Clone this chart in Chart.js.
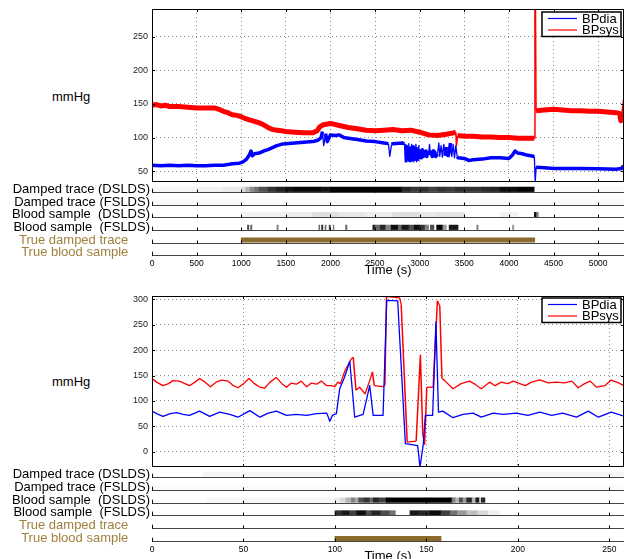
<!DOCTYPE html>
<html>
<head>
<meta charset="utf-8">
<script src="https://cdn.jsdelivr.net/npm/chart.js@4.4.0/dist/chart.umd.min.js"></script>
<style>
  body { margin: 0; background: #fff; width: 625px; height: 559px; overflow: hidden; position: relative;
         font-family: "Liberation Sans", Arial, sans-serif; }
  canvas { position: absolute; left: 0; }
  .unit { position: absolute; left: 52px; font-size: 13px; line-height: 16px; color: #000; }
</style>
</head>
<body>
<div class="unit" style="top:89px">mmHg</div>
<div class="unit" style="top:374px">mmHg</div>
<canvas id="mainTop" width="625" height="182" style="top:0px"></canvas>
<canvas id="stripTop" width="625" height="96" style="top:183px"></canvas>
<canvas id="mainBot" width="625" height="181" style="top:286px"></canvas>
<canvas id="stripBot" width="625" height="97" style="top:468px"></canvas>
<script>
const FONT = '"Liberation Sans", Arial, sans-serif';
Chart.defaults.font.family = FONT;
Chart.defaults.color = '#000';

// axes
const topTimeTicks = [0, 500, 1000, 1500, 2000, 2500, 3000, 3500, 4000, 4500, 5000];
const topMmHgTicks = [50, 100, 150, 200, 250];
const botTimeTicks = [0, 50, 100, 150, 200, 250];
const botMmHgTicks = [0, 50, 100, 150, 200, 250, 300];
const seriesNames = ['BPdia', 'BPsys'];
const stripLabels = ['Damped trace (DSLDS)', 'Damped trace (FSLDS)', 'Blood sample  (DSLDS)',
                     'Blood sample  (FSLDS)', 'True damped trace      ', 'True blood sample      '];

// top panel, [time, mmHg]
const topDia = [[0,59],[100,58],[200,59],[300,58],[400,59],[500,58],[600,58],[700,59],[800,59],[900,61],[980,62],
  [1020,64],[1060,68],[1090,74],[1110,80],[1125,73],[1150,76],[1200,77],[1250,80],[1300,82],[1350,85],[1400,88],
  [1450,90],[1500,91],[1600,92],[1700,93],[1800,94],[1860,96],[1895,100],[1910,109],[1925,88],[1945,106],[1965,94],
  [2000,104],[2050,103],[2100,104],[2150,100],[2200,99],[2300,97],[2400,95],[2500,94],[2600,92],[2650,91],[2665,72],
  [2685,90],[2700,91],[2800,92],[2830,91],[2838,64],[2846,90],[2854,64],[2862,88],[2870,65],[2878,91],[2886,64],
  [2894,86],[2902,64],[2910,90],[2918,65],[2926,88],[2934,64],[2942,87],[2950,66],[2958,90],[2966,64],[2974,85],
  [2982,66],[2990,88],[3000,68],[3010,80],[3020,70],[3030,82],[3040,72],[3050,79],[3060,73],[3070,80],[3080,72],
  [3090,78],[3100,74],[3110,90],[3120,74],[3130,78],[3140,72],[3150,80],[3160,73],[3170,78],[3180,72],[3200,76],
  [3215,92],[3225,72],[3240,88],[3255,71],[3270,90],[3285,73],[3300,86],[3315,71],[3330,78],[3345,92],[3360,72],
  [3375,90],[3390,70],[3405,88],[3420,72],[3430,70],[3500,69],[3550,66],[3600,67],[3700,68],[3800,70],[3900,70],
  [4000,69],[4040,74],[4070,80],[4100,77],[4150,76],[4200,74],[4285,72],[4295,34],[4305,56],[4400,55],[4500,54],
  [4600,54],[4800,54],[5000,53.5],[5200,53],[5260,54],[5285,58]];
const topSys = [[0,148],[50,149],[100,147],[150,148],[200,146],[300,146],[400,145],[500,144],[600,144],[700,144],
  [750,142],[800,139],[850,137],[900,134],[950,133],[1000,131],[1050,128],[1100,126],[1150,124],[1200,122],[1250,119],
  [1300,115],[1350,112],[1400,111],[1450,110],[1500,109],[1600,108],[1700,107],[1800,107],[1850,110],[1880,116],
  [1920,119],[2000,121],[2100,118],[2200,115],[2300,113],[2400,111],[2500,110],[2600,111],[2700,112],[2800,110],
  [2900,111],[3000,108],[3100,104],[3200,103],[3300,105],[3380,107],[3405,108],[3412,88],[3425,103],[3500,102],
  [3600,102],[3700,101],[3800,101],[3900,100],[4000,100],[4100,99],[4200,99],[4285,99],[4292,291],[4298,291],
  [4304,140],[4400,141],[4500,142],[4600,141],[4700,140],[4800,140],[4900,139],[5000,139],[5100,138],[5200,137],
  [5240,136],[5255,125],[5268,138],[5285,156]];

// bottom panel, [time, mmHg]
const botDia = [[0,80],[2.5,75],[6,69.5],[10,75],[13.5,77],[17,73.5],[20.5,71.5],[26,80],[31.5,69.5],[37,78],
  [42.5,73.5],[47,68],[51,76],[53.5,81],[59,68],[63.5,76],[68,80],[73.5,71.5],[79,73.5],[84.5,71.5],[90,75],[95.5,76],
  [97.2,60],[98.6,71.5],[100.8,75],[102.6,124],[105.3,147],[108.1,178],[110.8,68],[115.4,73.5],[119,130],[120.9,71.5],
  [126.3,71.5],[128.3,298],[134.3,297],[138.5,16],[145.2,12],[146.5,-30],[148.3,15],[149.4,71.5],[153.4,71.5],
  [155.2,255],[156.6,78],[159,80],[164.5,67],[170,73.5],[175.5,76],[180,68],[186.5,76],[192,73.5],[199,76],
  [205.5,71.5],[212,78],[218.5,71.5],[224.5,76],[232,68],[238.5,80],[244,68],[251,78],[258,70]];
const botSys = [[0,144],[2.5,137],[6,130],[9,134],[11.5,140],[15,139],[18,134],[20.5,130],[23.5,137],[26,144],
  [29,137],[32,128],[35,137],[38,141],[41.5,139],[44.5,130],[47,126],[50,134],[53,144],[56,134],[59,127],[61.5,125],
  [64.5,137],[68,146],[71,134],[73.5,127],[76,135],[79,133],[81.5,139],[84.5,128],[87,135],[90,133],[92.5,139],
  [95.5,130],[98,130],[100,128],[101.5,137],[103,134],[105.5,160],[109,183],[110,186],[111.5,121],[113.5,127],
  [116.5,114],[119,140],[120.5,157],[121.5,130],[126,128],[127.3,131],[128.2,306],[135.3,303],[136.2,290],
  [139.5,19],[144.4,21],[146.7,190],[148,35],[149,15],[150.2,127],[153.7,127],[156,297],[157.3,287],[158.5,144],
  [160,140],[164.5,124],[169,134],[173.5,139],[176.5,133],[180,124],[184.5,137],[187.5,130],[191,137],[194.5,134],
  [197.5,139],[200,135.5],[204,130],[207.5,137],[212,141.5],[216.5,135.5],[221,137],[225.5,135.5],[229.5,139],
  [233,126],[236.5,134],[239.5,139],[243,127],[247.5,130],[251,141],[255,135.5],[258,130]];

// strip cells [from, to, level 0..1]
const topDampedDslds = [[0,500,0.03],[500,800,0.05],[800,1000,0.08],[1000,1050,0.15],[1050,1100,0.3],
  [1100,1150,0.45],[1150,1200,0.55],[1200,1300,0.68],[1300,1400,0.8],[1400,1500,0.88],[1500,1600,0.93],
  [1600,1900,0.97],[1900,2000,0.92],[2000,2800,0.98],[2800,2900,0.85],[2900,3000,0.78],[3000,3100,0.82],
  [3100,3200,0.75],[3200,3300,0.8],[3300,3400,0.77],[3400,3500,0.82],[3500,3700,0.8],[3700,3800,0.84],
  [3800,3900,0.86],[3900,4100,0.95],[4100,4290,0.99],[4290,5290,0.02]];
const topDampedFslds = [[0,5290,0.02]];
const topBloodDslds = [[1000,1500,0.05],[1500,1800,0.07],[1800,2100,0.13],[2100,2400,0.09],[2400,2700,0.07],
  [2700,3000,0.13],[3000,3200,0.09],[3200,3500,0.11],[3900,4100,0.05],[4285,4310,0.95],[4310,4330,0.5]];
const topBloodFslds = [[1070,1085,0.7],[1105,1120,0.6],[1400,1415,0.5],[1870,1880,0.6],[1900,1915,0.8],
  [1940,1950,0.6],[1985,2000,0.7],[2030,2040,0.5],[2170,2185,0.6],[2475,2500,0.9],[2500,2560,0.6],[2560,2620,0.85],
  [2620,2680,0.5],[2680,2760,0.95],[2760,2800,0.6],[2800,2880,0.9],[2880,2940,0.7],[2940,3000,0.95],[3000,3060,0.8],
  [3060,3100,0.5],[3120,3160,0.7],[3190,3260,1.0],[3260,3300,0.4],[3330,3430,0.9],[3640,3655,0.5],[4040,4055,0.4]];
const topTrueDamped = [[1000,4290,1]];
const topTrueBlood = [];

const botDampedDslds = [[28,258,0.04]];
const botDampedFslds = [[0,258,0.02]];
const botBloodDslds = [[30,100,0.03],[100,103,0.08],[103,106,0.15],[106,109,0.3],[109,111,0.5],[111,113,0.35],
  [113,116,0.7],[116,119,0.8],[119,121,0.6],[121,124,0.85],[124,128,0.75],[128,164,1.0],[164,166,0.5],[166,168,0.3],
  [168,170,0.7],[170,172,0.4],[172,175,0.85],[175,177,0.3],[177,179,0.9],[179,180,0.2],[180,182,0.85]];
const botBloodFslds = [[100,104,0.8],[104,108,0.9],[108,112,0.75],[112,117,0.95],[117,120,0.7],[120,125,0.85],
  [125,130,0.7],[130,133,0.55],[141,146,0.9],[146,152,0.85],[152,158,0.95],[158,163,0.75],[163,167,0.55],
  [167,172,0.4],[172,178,0.25],[178,184,0.15],[184,190,0.06]];
const botTrueDamped = [];
const botTrueBlood = [[100,158,1]];

const TRUE_BAR = '#8c6a2c';
const TRUE_TEXT = '#a0803f';

function pairs(a) { return a.map(p => ({ x: p[0], y: p[1] })); }
function fixTicks(values) { return s => { s.ticks = values.map(v => ({ value: v })); }; }
function gray(v) { const c = Math.round(255 * (1 - v)); return `rgb(${c},${c},${c})`; }

// near-vertical jumps are drawn thin, like the single samples in the original trace
function segWidth(thick, thin) {
  return c => {
    const dy = Math.abs(c.p1.y - c.p0.y), dx = Math.abs(c.p1.x - c.p0.x);
    return (dy > 10 && dy > 3 * dx) ? thin : thick;
  };
}

// box round the plot with inward tick marks
const framePlugin = {
  id: 'frame',
  afterDatasetsDraw(chart) {
    const { ctx, chartArea: a, scales: { x, y } } = chart;
    ctx.save();
    ctx.strokeStyle = '#000';
    ctx.lineWidth = 1;
    ctx.strokeRect(a.left + 0.5, a.top + 0.5, a.width - 1, a.height - 1);
    ctx.beginPath();
    x.ticks.forEach(t => {
      const px = Math.round(x.getPixelForValue(t.value)) + 0.5;
      ctx.moveTo(px, a.bottom); ctx.lineTo(px, a.bottom - 3);
      ctx.moveTo(px, a.top); ctx.lineTo(px, a.top + 3);
    });
    y.ticks.forEach(t => {
      const py = Math.round(y.getPixelForValue(t.value)) + 0.5;
      ctx.moveTo(a.left, py); ctx.lineTo(a.left + 3, py);
      ctx.moveTo(a.right, py); ctx.lineTo(a.right - 3, py);
    });
    ctx.stroke();
    ctx.restore();
  }
};

const legendPlugin = {
  id: 'boxLegend',
  afterDraw(chart, args, opts) {
    const { ctx, chartArea: a } = chart;
    const w = 79, h = 24.5;
    const left = a.right - 3 - w, top = a.top + opts.top;
    ctx.save();
    ctx.fillStyle = '#fff';
    ctx.fillRect(left, top, w, h);
    ctx.strokeStyle = '#000';
    ctx.lineWidth = 1.5;
    ctx.strokeRect(left, top, w, h);
    chart.data.datasets.forEach((ds, i) => {
      const yy = top + 6.5 + i * 11.5;
      ctx.strokeStyle = ds.borderColor;
      ctx.lineWidth = 1.2;
      ctx.beginPath(); ctx.moveTo(left + 6, yy); ctx.lineTo(left + 35, yy); ctx.stroke();
      ctx.fillStyle = '#000';
      ctx.font = '13px ' + FONT;
      ctx.textBaseline = 'middle';
      ctx.fillText(ds.label, left + 40, yy + 0.5);
    });
    ctx.restore();
  }
};

// baseline, left stub and tick marks under each strip row
const stripPlugin = {
  id: 'strips',
  afterDatasetsDraw(chart) {
    const { ctx, chartArea: a, scales: { x, y } } = chart;
    ctx.save();
    y.ticks.forEach((t, i) => {
      const yb = Math.round(y.getPixelForTick(i) + 2.5) + 0.5;
      ctx.strokeStyle = '#444';
      ctx.lineWidth = 1;
      ctx.beginPath();
      ctx.moveTo(a.left, yb); ctx.lineTo(a.right, yb);
      ctx.moveTo(a.left + 0.5, yb); ctx.lineTo(a.left + 0.5, yb - 4);
      ctx.stroke();
      ctx.strokeStyle = '#000';
      ctx.beginPath();
      x.ticks.forEach(xt => {
        const px = Math.round(x.getPixelForValue(xt.value)) + 0.5;
        ctx.moveTo(px, yb); ctx.lineTo(px, yb - 3);
      });
      ctx.stroke();
    });
    ctx.restore();
  }
};

function makeMain(id, dia, sys, xMax, yMin, yMax, xTicks, yTicks, lw, padTop, legendTop) {
  const gridStyle = { color: '#8c8c8c', drawTicks: false, lineWidth: 1 };
  return new Chart(document.getElementById(id), {
    type: 'line',
    data: {
      datasets: [
        { label: seriesNames[0], data: pairs(dia), borderColor: '#0000ff', borderWidth: lw[0],
          segment: { borderWidth: segWidth(lw[0], 1.3) } },
        { label: seriesNames[1], data: pairs(sys), borderColor: '#ff0000', borderWidth: lw[1],
          segment: { borderWidth: segWidth(lw[1], 1.5) } }
      ]
    },
    options: {
      responsive: false, animation: false, events: [],
      elements: { point: { radius: 0 }, line: { tension: 0, borderJoinStyle: 'round' } },
      layout: { padding: { top: padTop, right: 1, left: 0, bottom: 0 } },
      plugins: { legend: { display: false }, tooltip: { enabled: false }, boxLegend: { top: legendTop } },
      scales: {
        x: {
          type: 'linear', min: 0, max: xMax,
          afterBuildTicks: fixTicks(xTicks),
          afterFit: s => { s.height = 0; s.paddingLeft = 0; s.paddingRight = 0; },
          ticks: { display: false },
          grid: gridStyle,
          border: { display: false, dash: [1, 3] }
        },
        y: {
          min: yMin, max: yMax,
          afterBuildTicks: fixTicks(yTicks),
          afterFit: s => { s.width = 152; s.paddingTop = 0; s.paddingBottom = 0; },
          ticks: { font: { size: 9 }, padding: 4, color: '#222', autoSkip: false, callback: v => String(v) },
          grid: gridStyle,
          border: { display: false, dash: [1, 3] }
        }
      }
    },
    plugins: [framePlugin, legendPlugin]
  });
}

function makeStrip(id, rows, xMax, xTicks) {
  return new Chart(document.getElementById(id), {
    type: 'bar',
    data: {
      datasets: rows.map((cells, r) => ({
        data: cells.map(c => ({ x: [c[0], c[1]], y: stripLabels[r], v: c[2] })),
        backgroundColor: r >= 4 ? TRUE_BAR : (ctx => gray(ctx.raw ? ctx.raw.v : 0)),
        barThickness: 4.5, grouped: false, borderWidth: 0
      }))
    },
    options: {
      indexAxis: 'y', responsive: false, animation: false, events: [],
      layout: { padding: { top: 0, right: 1, left: 0, bottom: 0 } },
      plugins: { legend: { display: false }, tooltip: { enabled: false } },
      scales: {
        y: {
          type: 'category', labels: stripLabels,
          afterFit: s => { s.width = 152; s.paddingTop = 0; s.paddingBottom = 0; },
          grid: { display: false, drawTicks: false },
          border: { display: false },
          ticks: { font: { size: 13 }, padding: 2, autoSkip: false,
                   color: c => (c.index >= 4 ? TRUE_TEXT : '#000') }
        },
        x: {
          type: 'linear', min: 0, max: xMax,
          afterBuildTicks: fixTicks(xTicks),
          afterFit: s => { s.height = 20; s.paddingLeft = 0; s.paddingRight = 0; },
          grid: { display: false, drawTicks: false },
          border: { display: false },
          ticks: { font: { size: 8.5 }, padding: 0, color: '#000', autoSkip: false, maxRotation: 0,
                   callback: v => String(v) },
          title: { display: true, text: 'Time (s)', font: { size: 13 }, padding: { top: 0, bottom: 1 } }
        }
      }
    },
    plugins: [stripPlugin]
  });
}

makeMain('mainTop', topDia, topSys, 5290, 34, 291, topTimeTicks, topMmHgTicks, [3.5, 5], 9, 3);
makeStrip('stripTop', [topDampedDslds, topDampedFslds, topBloodDslds, topBloodFslds, topTrueDamped, topTrueBlood],
  5290, topTimeTicks);
makeMain('mainBot', botDia, botSys, 258, -30, 306.5, botTimeTicks, botMmHgTicks, [1.3, 1.3], 10, 2);
makeStrip('stripBot', [botDampedDslds, botDampedFslds, botBloodDslds, botBloodFslds, botTrueDamped, botTrueBlood],
  258, botTimeTicks);
</script>
</body>
</html>
